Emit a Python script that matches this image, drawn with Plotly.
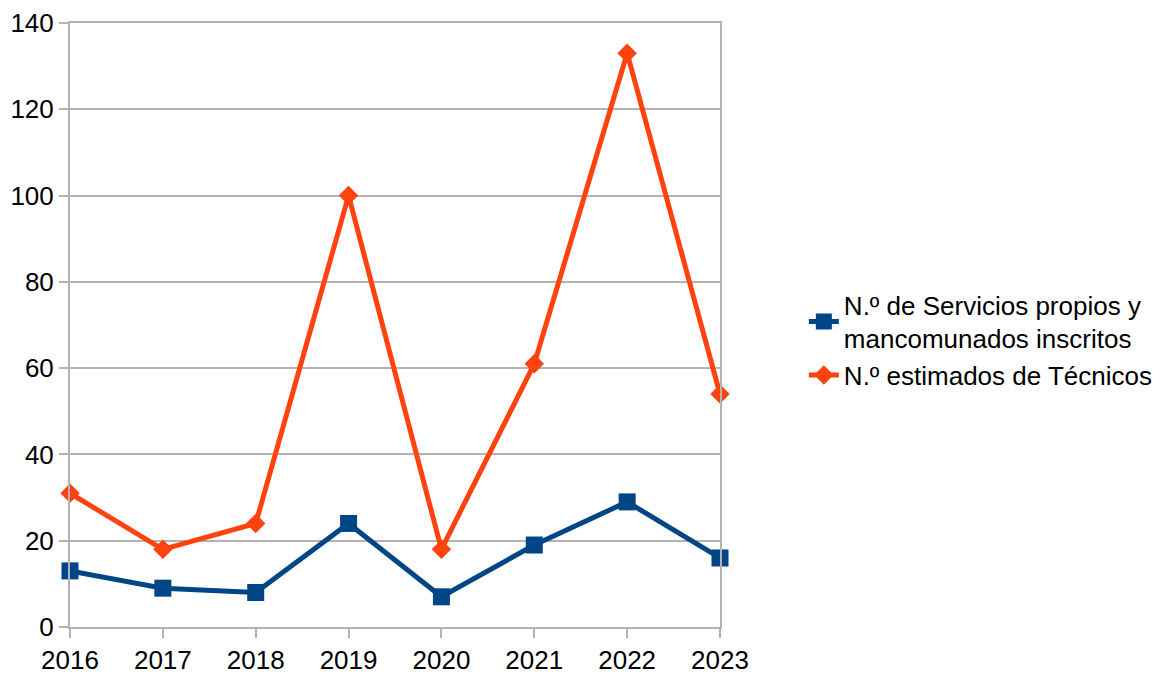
import plotly.graph_objects as go

years = [2016, 2017, 2018, 2019, 2020, 2021, 2022, 2023]
servicios = [13, 9, 8, 24, 7, 19, 29, 16]
tecnicos = [31, 18, 24, 100, 18, 61, 133, 54]
y_ticks = [0, 20, 40, 60, 80, 100, 120, 140]

fig = go.Figure()

fig.add_trace(go.Scatter(
    x=years, y=servicios,
    mode='lines+markers',
    name='N.º de Servicios propios y<br>mancomunados inscritos',
    line=dict(color='#004586', width=5),
    marker=dict(symbol='square', size=17, color='#004586'),
    cliponaxis=False,
))

fig.add_trace(go.Scatter(
    x=years, y=tecnicos,
    mode='lines+markers',
    name='N.º estimados de Técnicos',
    line=dict(color='#ff420e', width=5),
    marker=dict(symbol='diamond', size=15, color='#ff420e'),
    cliponaxis=False,
))

# page body has an 8px margin, so the figure is sized to fit the window
fig.update_layout(
    width=1162,
    height=669,
    plot_bgcolor='white',
    paper_bgcolor='white',
    font=dict(family='Liberation Sans, Arial, sans-serif', size=26, color='#000000'),
    margin=dict(l=62, r=444, t=15, b=50),
    xaxis=dict(
        range=[2016, 2023], tickvals=years, ticktext=[str(y) for y in years],
        showgrid=False, zeroline=False, automargin=False,
        showline=True, linecolor='#b3b3b3', linewidth=2, mirror=True,
        ticks='outside', ticklen=9, tickcolor='#b3b3b3', tickwidth=2,
        tickfont=dict(size=26),
    ),
    yaxis=dict(
        range=[0, 140], tickvals=y_ticks,
        showgrid=True, gridcolor='#b3b3b3', gridwidth=2, zeroline=False, automargin=False,
        showline=True, linecolor='#b3b3b3', linewidth=2, mirror=True,
        ticks='outside', ticklen=9, tickcolor='#b3b3b3', tickwidth=2,
        tickfont=dict(size=26),
    ),
    legend=dict(
        x=1.129, y=0.475, xanchor='left', yanchor='middle',
        font=dict(size=26), tracegroupgap=4,
    ),
)

fig.write_html("out.html")
